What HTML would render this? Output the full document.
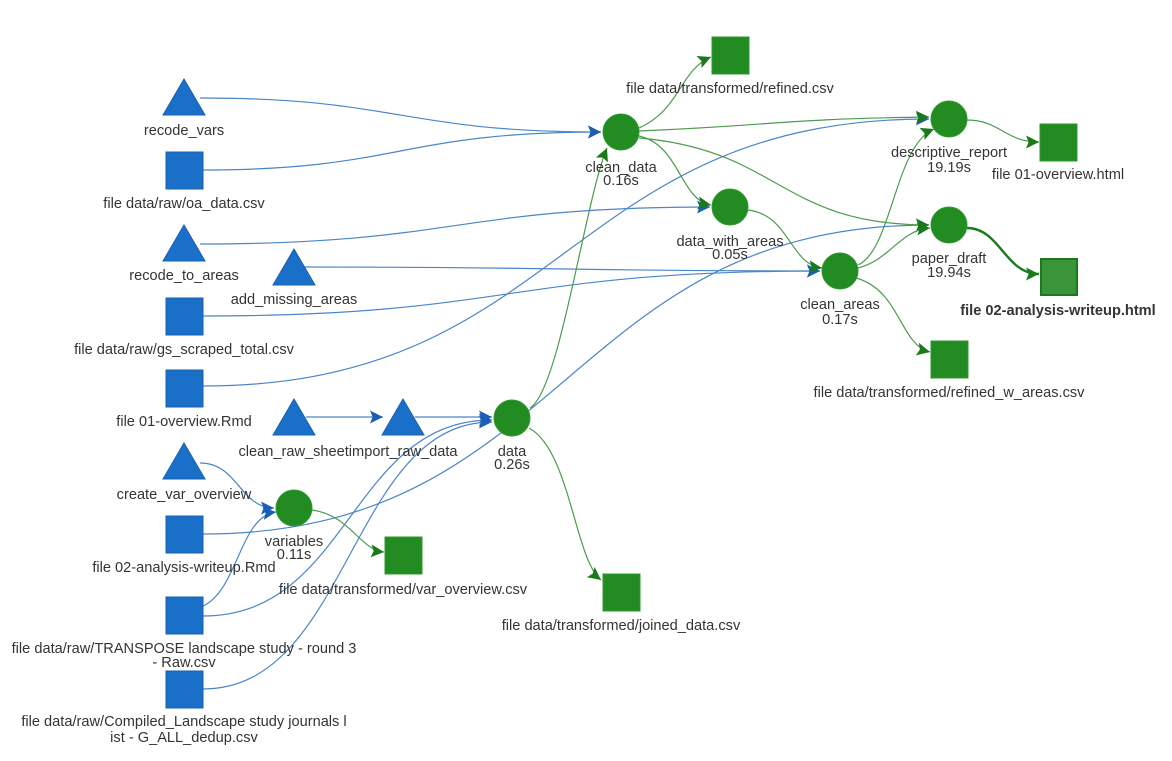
<!DOCTYPE html>
<html><head><meta charset="utf-8"><style>
html,body{margin:0;padding:0;background:#fff;}
svg{display:block;}
text{font-family:"Liberation Sans",Arial,sans-serif;font-size:14.6px;fill:#343434;text-anchor:middle;}
.b{fill:none;stroke:#4a86c8;stroke-width:1.2;}
.g{fill:none;stroke:#4f9a4f;stroke-width:1.2;}
.bn{fill:#1a70c8;stroke:#1760b0;stroke-width:1;}
.gn{fill:#228b22;stroke:#2f9a2f;stroke-width:1;}
</style></head><body>
<svg width="1172" height="761" viewBox="0 0 1172 761" xmlns="http://www.w3.org/2000/svg">
<defs>
<marker id="ab" viewBox="0 0 10 10" refX="10" refY="5" markerWidth="13" markerHeight="13" markerUnits="userSpaceOnUse" orient="auto"><path d="M0,0 L10,5 L0,10 L2,5 z" fill="#1a5fb4"/></marker>
<marker id="ag" viewBox="0 0 10 10" refX="10" refY="5" markerWidth="13" markerHeight="13" markerUnits="userSpaceOnUse" orient="auto"><path d="M0,0 L10,5 L0,10 L2,5 z" fill="#1a7a1a"/></marker>
</defs>
<g marker-end="url(#ab)">
<path class="b" d="M200 98 C400 98, 400 132, 601 132"/>
<path class="b" d="M203 170 C400 170, 400 132, 601 132"/>
<path class="b" d="M200 244 C456 244, 456 207, 710 207"/>
<path class="b" d="M304 267 C566 267, 566 271, 820 271"/>
<path class="b" d="M203 316 C510 316, 510 271, 820 271"/>
<path class="b" d="M203 386 C565 386, 565 119, 929 119"/>
<path class="b" d="M306 417 L383 417"/>
<path class="b" d="M415 417 L492 417"/>
<path class="b" d="M200 463 C238 463, 240 508, 274 508"/>
<path class="b" d="M203 534 C566 534, 566 225, 929 225"/>
<path class="b" d="M203 606 C238 590, 240 516, 276 512"/>
<path class="b" d="M203 616 C350 616, 350 420, 492 420"/>
<path class="b" d="M203 689 C350 689, 350 422, 492 422"/>
</g>
<g marker-end="url(#ag)">
<path class="g" d="M530 408 C560 390, 585 200, 607 148"/>
<path class="g" d="M529 428 C570 450, 575 560, 601 580"/>
<path class="g" d="M312 510 C350 515, 360 550, 384 552"/>
<path class="g" d="M639 128 C680 110, 680 70, 711 57"/>
<path class="g" d="M639 131 C780 125, 780 119, 929 117"/>
<path class="g" d="M639 136 C680 145, 680 200, 711 205"/>
<path class="g" d="M639 138 C780 150, 780 225, 929 225"/>
<path class="g" d="M748 210 C790 215, 790 265, 822 268"/>
<path class="g" d="M858 265 C892 250, 895 145, 934 129"/>
<path class="g" d="M858 268 C890 260, 900 230, 930 228"/>
<path class="g" d="M856 278 C900 290, 900 345, 930 352"/>
<path class="g" d="M967 120 C1000 120, 1005 142, 1039 142"/>
<path d="M967 228 C1000 228, 1005 274, 1039 274" fill="none" stroke="#1a7a1a" stroke-width="2.4"/>
</g>
<polygon class="bn" points="184,79 205,115 163,115"/>
<rect class="bn" x="166" y="152" width="37" height="37"/>
<polygon class="bn" points="184,225 205,261 163,261"/>
<polygon class="bn" points="294,249 315,285 273,285"/>
<rect class="bn" x="166" y="298" width="37" height="37"/>
<rect class="bn" x="166" y="370" width="37" height="37"/>
<polygon class="bn" points="294,399 315,435 273,435"/>
<polygon class="bn" points="403,399 424,435 382,435"/>
<polygon class="bn" points="184,443 205,479 163,479"/>
<rect class="bn" x="166" y="516" width="37" height="37"/>
<rect class="bn" x="166" y="597" width="37" height="37"/>
<rect class="bn" x="166" y="671" width="37" height="37"/>
<circle class="gn" cx="294" cy="508" r="18"/>
<rect class="gn" x="385" y="537" width="37" height="37"/>
<circle class="gn" cx="512" cy="418" r="18"/>
<rect class="gn" x="603" y="574" width="37" height="37"/>
<circle class="gn" cx="621" cy="132" r="18"/>
<rect class="gn" x="712" y="37" width="37" height="37"/>
<circle class="gn" cx="730" cy="207" r="18"/>
<circle class="gn" cx="840" cy="271" r="18"/>
<rect class="gn" x="931" y="341" width="37" height="37"/>
<circle class="gn" cx="949" cy="119" r="18"/>
<rect class="gn" x="1040" y="124" width="37" height="37"/>
<circle class="gn" cx="949" cy="225" r="18"/>
<rect x="1041" y="259" width="36" height="36" fill="#3a943a" stroke="#1a7a1a" stroke-width="2"/>
<text x="184" y="135">recode_vars</text>
<text x="184" y="208">file data/raw/oa_data.csv</text>
<text x="184" y="280">recode_to_areas</text>
<text x="294" y="304">add_missing_areas</text>
<text x="184" y="354">file data/raw/gs_scraped_total.csv</text>
<text x="184" y="426">file 01-overview.Rmd</text>
<text x="348" y="456">clean_raw_sheetimport_raw_data</text>
<text x="184" y="499">create_var_overview</text>
<text x="294" y="546">variables</text>
<text x="294" y="559">0.11s</text>
<text x="184" y="572">file 02-analysis-writeup.Rmd</text>
<text x="403" y="594">file data/transformed/var_overview.csv</text>
<text x="184" y="653">file data/raw/TRANSPOSE landscape study - round 3</text>
<text x="184" y="667">- Raw.csv</text>
<text x="184" y="726">file data/raw/Compiled_Landscape study journals l</text>
<text x="184" y="742">ist - G_ALL_dedup.csv</text>
<text x="512" y="456">data</text>
<text x="512" y="469">0.26s</text>
<text x="621" y="630">file data/transformed/joined_data.csv</text>
<text x="621" y="172">clean_data</text>
<text x="621" y="185">0.16s</text>
<text x="730" y="93">file data/transformed/refined.csv</text>
<text x="730" y="246">data_with_areas</text>
<text x="730" y="259">0.05s</text>
<text x="840" y="309">clean_areas</text>
<text x="840" y="324">0.17s</text>
<text x="949" y="397">file data/transformed/refined_w_areas.csv</text>
<text x="949" y="157">descriptive_report</text>
<text x="949" y="172">19.19s</text>
<text x="1058" y="179">file 01-overview.html</text>
<text x="949" y="263">paper_draft</text>
<text x="949" y="277">19.94s</text>
<text x="1058" y="315" style="font-weight:bold">file 02-analysis-writeup.html</text>
</svg>
</body></html>
